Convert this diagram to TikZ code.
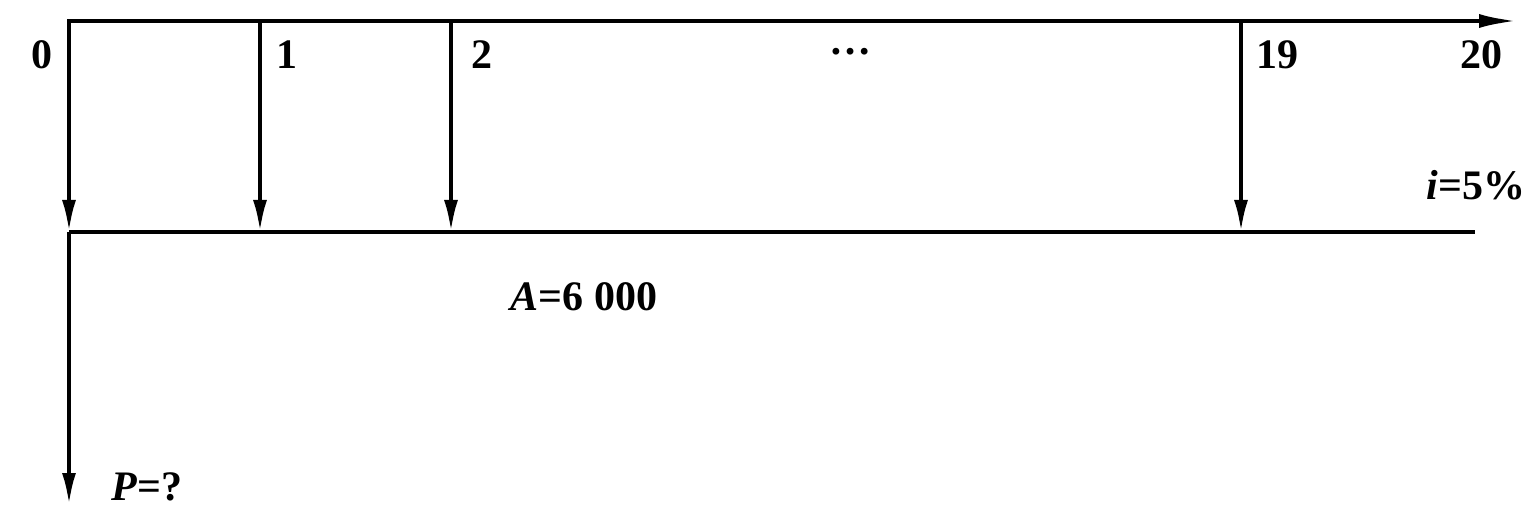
\documentclass[tikz,border=0pt]{standalone}
\usepackage{fontspec}
\setmainfont{Liberation Serif}
\usetikzlibrary{arrows.meta}
\begin{document}
\begin{tikzpicture}[x=1pt,y=-1pt,
  eixo/.style={line width=4pt},
  fluxo/.style={eixo,-{Latex[length=32pt,width=14pt]}},
  rotulo/.style={font=\fontsize{42}{48}\bfseries\selectfont,inner sep=0pt}
]
  \useasboundingbox (0,0) rectangle (1536,521);
  % pontos do diagrama
  \foreach \n/\x in {0/69,1/260,2/451,19/1241}{
    \coordinate (t\n) at (\x,21);
    \coordinate (b\n) at (\x,232);
  }
  \coordinate (inicio) at (67,21);
  \coordinate (fim) at (1517,21);
  \coordinate (base) at (1475,232);
  \coordinate (valor) at (69,505);
  % eixos e fluxos
  \draw[eixo,-{Latex[length=38pt,width=14pt]}] (inicio) -- (fim);
  \draw[eixo] (b0) -- (base);
  \foreach \n in {0,1,2,19}
    \draw[fluxo] (t\n) -- (b\n);
  \draw[fluxo] (b0) -- (valor);
  % rotulos
  \node[rotulo] (n0) at (42,55) {0};
  \node[rotulo] (n1) at (287,55) {1};
  \node[rotulo] (n2) at (482,55) {2};
  \node[rotulo] (pts) at (850,52) {…};
  \node[rotulo] (n19) at (1277,55) {19};
  \node[rotulo] (n20) at (1481,55) {20};
  \node[rotulo] (taxa) at (1476,185) {\textit{i}=5\%};
  \node[rotulo] (anuidade) at (584,297) {\textit{A}=6 000};
  \node[rotulo] (presente) at (147,487) {\textit{P}=?};
\end{tikzpicture}
\end{document}
